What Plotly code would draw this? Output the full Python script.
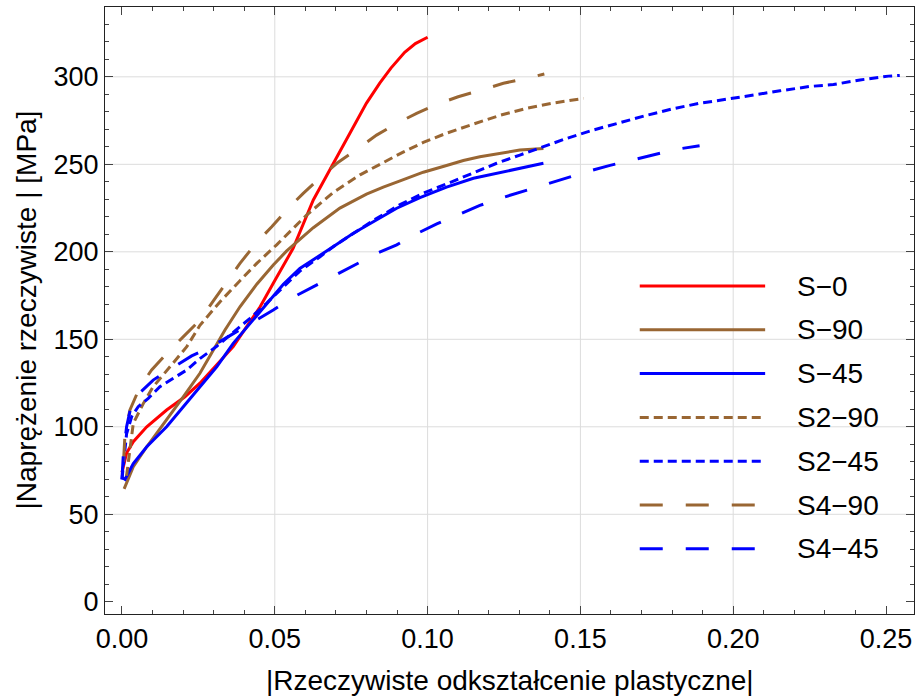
import plotly.graph_objects as go

# --- measured stress/strain curves -------------------------------------------
s0_x = [0.0, 0.0015, 0.0037, 0.0081, 0.0146, 0.0206, 0.0255, 0.0304, 0.0364, 0.0408,
        0.0452, 0.0495, 0.0539, 0.0560, 0.0626, 0.0692, 0.0757, 0.0800, 0.0844, 0.0880,
        0.0925, 0.0960, 0.1000]
s0_y = [74.0, 85.0, 91.5, 100.0, 109.6, 117.2, 124.9, 134.3, 145.8, 157.2,
        168.6, 182.0, 195.3, 202.0, 229.6, 250.6, 271.5, 285.0, 296.5, 305.0,
        314.0, 319.0, 322.6]

s90_x = [0.0007, 0.0037, 0.0081, 0.0146, 0.0201, 0.0255, 0.0299, 0.0337, 0.0386, 0.0441,
         0.0495, 0.0539, 0.0626, 0.0713, 0.0800, 0.0855, 0.0910, 0.0986, 0.1062, 0.1117,
         0.1171, 0.1248, 0.1302, 0.1379]
s90_y = [64.5, 77.2, 88.6, 103.9, 117.2, 130.6, 143.9, 155.3, 168.6, 181.5,
         192.5, 200.5, 213.8, 225.0, 233.0, 237.0, 240.5, 245.5, 249.3, 252.2,
         254.3, 256.6, 258.2, 259.1]

s45_x = [0.0, 0.0010, 0.0037, 0.0081, 0.0146, 0.0201, 0.0255, 0.0310, 0.0364, 0.0419,
         0.0473, 0.0528, 0.0582, 0.0637, 0.0692, 0.0757, 0.0823, 0.0899, 0.0975, 0.1062,
         0.1150, 0.1248, 0.1324, 0.1379]
s45_y = [71.0, 70.0, 79.0, 88.6, 100.0, 111.5, 122.9, 134.3, 147.7, 159.1,
         170.6, 181.5, 190.5, 197.0, 203.0, 210.6, 217.2, 224.9, 231.0, 237.0,
         242.0, 245.8, 248.6, 250.6]

s2_90_x = [0.0015, 0.0026, 0.0037, 0.0070, 0.0102, 0.0157, 0.0212, 0.0255, 0.0321, 0.0386,
           0.0441, 0.0506, 0.0604, 0.0692, 0.0779, 0.0855, 0.0920, 0.0986, 0.1062, 0.1150,
           0.1237, 0.1324, 0.1411, 0.1510]
s2_90_y = [72.0, 86.7, 102.0, 113.4, 122.9, 134.3, 145.8, 158.0, 171.5, 183.5,
           193.4, 204.0, 221.0, 234.0, 244.0, 251.0, 257.0, 262.5, 267.8, 273.0,
           278.0, 282.0, 285.0, 287.7]

s2_45_x = [0.0, 0.0007, 0.0015, 0.0032, 0.0053, 0.0086, 0.0124, 0.0168, 0.0212, 0.0255,
           0.0310, 0.0364, 0.0419, 0.0473, 0.0528, 0.0582, 0.0648, 0.0692, 0.0757, 0.0823,
           0.0910, 0.0986, 0.1062, 0.1150, 0.1226, 0.1302, 0.1379, 0.1455, 0.1542, 0.1630,
           0.1717, 0.1804, 0.1891, 0.1979, 0.2066, 0.2153, 0.2251, 0.2328, 0.2415, 0.2508,
           0.2545]
s2_45_y = [70.0, 81.0, 96.0, 106.0, 111.5, 116.3, 122.9, 127.7, 132.5, 139.0,
           146.0, 154.0, 162.0, 170.6, 180.0, 189.0, 197.2, 203.0, 210.5, 218.0,
           227.0, 233.5, 238.8, 245.0, 250.6, 255.3, 260.0, 264.8, 269.6, 274.0,
           278.0, 281.8, 284.9, 287.2, 289.8, 292.0, 294.5, 295.6, 298.2, 300.4,
           300.8]

s4_90_x = [0.0005, 0.0010, 0.0026, 0.0059, 0.0097, 0.0157, 0.0201, 0.0255, 0.0299, 0.0343,
           0.0386, 0.0441, 0.0490, 0.0544, 0.0593, 0.0653, 0.0703, 0.0773, 0.0833, 0.0899,
           0.0964, 0.1035, 0.1100, 0.1177, 0.1248, 0.1324, 0.1382]
s4_90_y = [80.0, 96.5, 109.6, 122.9, 132.5, 143.9, 151.5, 161.0, 172.0, 182.9,
           193.4, 205.5, 214.3, 224.9, 233.4, 243.0, 250.6, 259.1, 266.7, 273.4,
           279.1, 284.6, 288.6, 292.5, 296.3, 299.1, 301.6]

s4_45_x = [0.0, 0.0004, 0.0015, 0.0030, 0.0050, 0.0102, 0.0163, 0.0228, 0.0294, 0.0343,
           0.0435, 0.0495, 0.0560, 0.0626, 0.0697, 0.0762, 0.0833, 0.0899, 0.0964, 0.1030,
           0.1100, 0.1171, 0.1242, 0.1313, 0.1384, 0.1455, 0.1526, 0.1597, 0.1673, 0.1744,
           0.1815, 0.1890]
s4_45_y = [70.0, 83.0, 100.0, 112.0, 118.0, 126.7, 133.4, 140.5, 146.0, 151.0,
           160.5, 166.7, 174.0, 180.0, 186.7, 192.5, 199.0, 204.0, 210.3, 216.0,
           221.3, 226.5, 230.8, 234.6, 238.8, 242.6, 246.0, 249.4, 252.6, 255.5,
           258.6, 260.6]

# --- axes ticks ----------------------------------------------------------------
x_ticks = [0.00, 0.05, 0.10, 0.15, 0.20, 0.25]
x_tick_labels = ["0.00", "0.05", "0.10", "0.15", "0.20", "0.25"]
y_ticks = [0, 50, 100, 150, 200, 250, 300]
y_tick_labels = ["0", "50", "100", "150", "200", "250", "300"]
x_grid = [0.05, 0.10, 0.15, 0.20]
y_grid = [50, 100, 150, 200, 250, 300]

RED = "#ff0000"
BROWN = "#996633"
BLUE = "#0000ff"
SHORT = "9px,5px"
LONG = "23px,23px"

series = [
    ("S\u22120", s0_x, s0_y, RED, "solid"),
    ("S\u221290", s90_x, s90_y, BROWN, "solid"),
    ("S\u221245", s45_x, s45_y, BLUE, "solid"),
    ("S2\u221290", s2_90_x, s2_90_y, BROWN, SHORT),
    ("S2\u221245", s2_45_x, s2_45_y, BLUE, SHORT),
    ("S4\u221290", s4_90_x, s4_90_y, BROWN, LONG),
    ("S4\u221245", s4_45_x, s4_45_y, BLUE, LONG),
]

FONT = "Liberation Sans, Arial, sans-serif"

fig = go.Figure()
for name, xs, ys, color, dash in series:
    fig.add_trace(go.Scatter(
        x=xs, y=ys, mode="lines", name=name, showlegend=False,
        line=dict(color=color, width=3, dash=dash),
    ))

# light grid
for gx in x_grid:
    fig.add_shape(type="line", xref="x", yref="paper", x0=gx, x1=gx, y0=0, y1=1,
                  line=dict(color="#dcdcdc", width=1), layer="below")
for gy in y_grid:
    fig.add_shape(type="line", xref="paper", yref="y", x0=0, x1=1, y0=gy, y1=gy,
                  line=dict(color="#dcdcdc", width=1), layer="below")

# legend drawn as long line samples with labels to the right
leg_x0, leg_x1, leg_tx = 0.661, 0.816, 0.853
leg_top, leg_step = (614 - 286) / 607, 43.8 / 607
for i, (name, _, _, color, dash) in enumerate(series):
    yy = leg_top - i * leg_step
    fig.add_shape(type="line", xref="paper", yref="paper",
                  x0=leg_x0, x1=leg_x1, y0=yy, y1=yy,
                  line=dict(color=color, width=3, dash=dash))
    fig.add_annotation(xref="paper", yref="paper", x=leg_tx, y=yy, text=name,
                       showarrow=False, xanchor="left", yanchor="middle",
                       font=dict(family=FONT, size=28, color="black"))

axis_common = dict(
    showline=True, linecolor="#222", linewidth=1.2, mirror="allticks",
    ticks="inside", ticklen=8, tickwidth=1.2, tickcolor="#444",
    showgrid=False, zeroline=False,
    tickfont=dict(family=FONT, size=27, color="black"),
)

fig.update_xaxes(range=[-0.00556, 0.25916], tickvals=x_ticks, ticktext=x_tick_labels,
                 minor=dict(ticks="inside", dtick=0.01, tick0=0, ticklen=4,
                            tickcolor="#444", tickwidth=1, showgrid=False),
                 **axis_common)
fig.update_yaxes(range=[-6.97, 339.9], tickvals=y_ticks, ticktext=y_tick_labels,
                 minor=dict(ticks="inside", dtick=10, tick0=0, ticklen=4,
                            tickcolor="#444", tickwidth=1, showgrid=False),
                 **axis_common)

fig.add_annotation(xref="paper", yref="paper", x=(510 - 105) / 809, y=(614 - 680) / 607,
                   text="|Rzeczywiste odkształcenie plastyczne|", showarrow=False,
                   xanchor="center", yanchor="middle",
                   font=dict(family=FONT, size=28, color="black"))
fig.add_annotation(xref="paper", yref="paper", x=(26 - 105) / 809, y=0.5,
                   text="|Naprężenie rzeczywiste | [MPa]", showarrow=False, textangle=-90,
                   xanchor="center", yanchor="middle",
                   font=dict(family=FONT, size=28, color="black"))

fig.update_layout(
    width=915, height=698,
    margin=dict(l=105, r=1, t=7, b=84),
    paper_bgcolor="white", plot_bgcolor="white",
    showlegend=False,
)

fig.write_html("out.html")
